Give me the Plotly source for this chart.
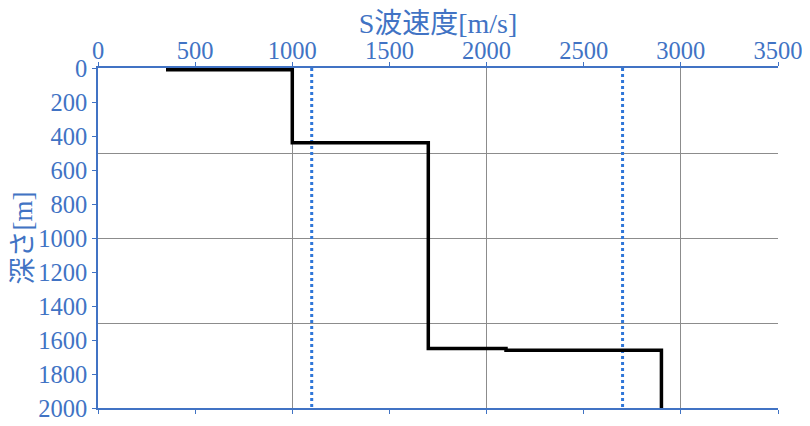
import plotly.graph_objects as go

# S-wave velocity profile (step line)
vs_profile = [350, 1000, 1000, 1700, 1700, 2100, 2100, 2900, 2900]
depth_profile = [10, 10, 440, 440, 1650, 1650, 1660, 1660, 2000]

# dotted reference lines
ref_vs = [1100, 2700]
ref_depth = [0, 2000]

x_ticks = [0, 500, 1000, 1500, 2000, 2500, 3000, 3500]
y_ticks = [0, 200, 400, 600, 800, 1000, 1200, 1400, 1600, 1800, 2000]

blue = "#4173C4"
font_family = "Liberation Serif, Noto Sans CJK JP, serif"

fig = go.Figure()

for v in ref_vs:
    fig.add_trace(go.Scatter(
        x=[v, v], y=ref_depth, mode="lines",
        line=dict(color="#2F76D8", width=3, dash="dot"),
        showlegend=False, hoverinfo="skip"))

fig.add_trace(go.Scatter(
    x=vs_profile, y=depth_profile, mode="lines",
    line=dict(color="black", width=3.5),
    showlegend=False))

# overlay axes used only for gridlines (grid spacing differs from tick spacing)
fig.add_trace(go.Scatter(x=[None], y=[None], xaxis="x2", yaxis="y2",
                         showlegend=False, hoverinfo="skip"))

# page body has an 8px default margin, so the figure is sized to fit the window
fig.update_layout(
    width=802, height=418,
    margin=dict(l=90, r=32, t=60, b=18, autoexpand=False),
    paper_bgcolor="white", plot_bgcolor="white",
    font=dict(family=font_family, color=blue, size=24.5),
    xaxis=dict(
        side="top", range=[0, 3500], tickvals=x_ticks,
        ticktext=[str(t) for t in x_ticks],
        showgrid=False, zeroline=False, automargin=False,
        showline=True, linecolor=blue, linewidth=1.5, mirror="ticks",
        ticks="outside", ticklen=4, tickcolor=blue,
        ticklabelstandoff=-7,
        tickfont=dict(size=24.5, color=blue),
        title=dict(text="S波速度[m/s]", font=dict(size=28, color=blue), standoff=8),
    ),
    yaxis=dict(
        range=[2000, 0], tickvals=y_ticks,
        ticktext=[str(t) for t in y_ticks],
        showgrid=False, zeroline=False, automargin=False,
        showline=True, linecolor=blue, linewidth=1.5,
        ticks="outside", ticklen=4, tickcolor=blue,
        tickfont=dict(size=24.5, color=blue),
        title=dict(text="深さ[m]", font=dict(size=27, color=blue), standoff=4),
    ),
    xaxis2=dict(
        overlaying="x", matches="x", side="bottom",
        dtick=1000, tick0=0, showgrid=True, gridcolor="#8C8C8C", gridwidth=1,
        showticklabels=False, zeroline=False, showline=False, ticks="",
    ),
    yaxis2=dict(
        overlaying="y", matches="y", side="right",
        dtick=500, tick0=0, showgrid=True, gridcolor="#8C8C8C", gridwidth=1,
        showticklabels=False, zeroline=False, showline=False, ticks="",
    ),
)

fig.write_html("out.html")
